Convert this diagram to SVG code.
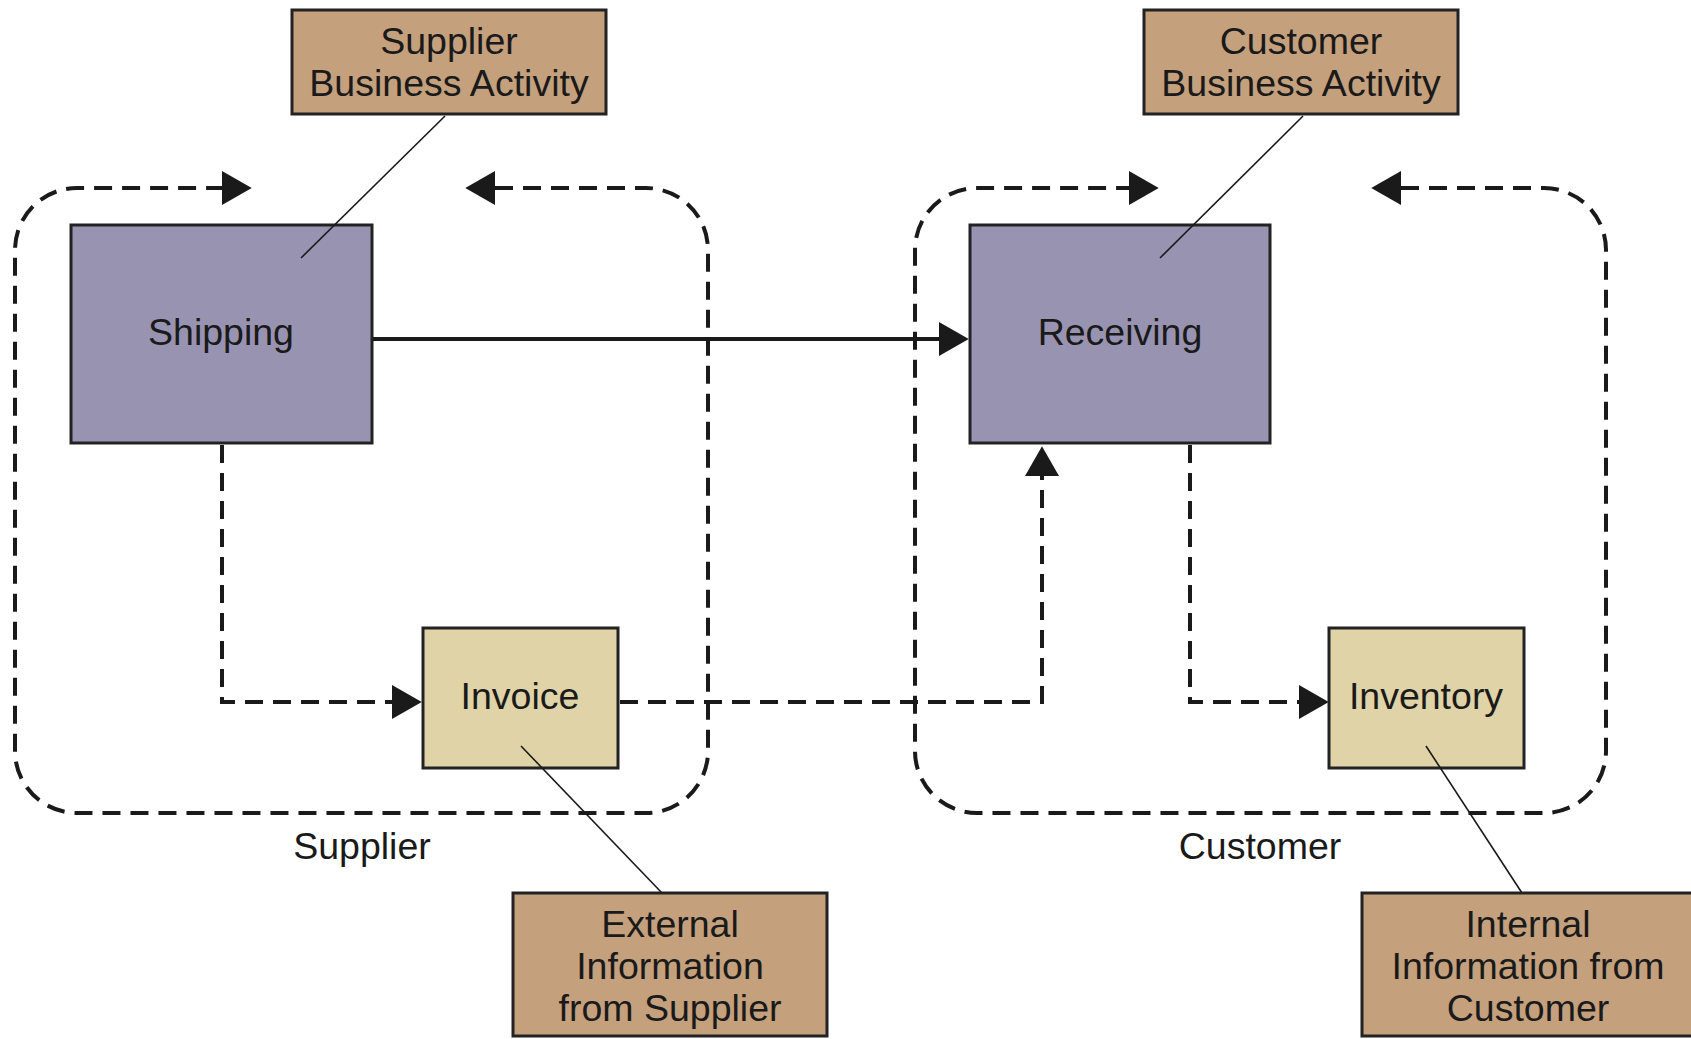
<svg xmlns="http://www.w3.org/2000/svg" width="1691" height="1039" viewBox="0 0 1691 1039">
<style>
text{font-family:"Liberation Sans",Arial,sans-serif;fill:#1a1a1a;text-anchor:middle}
.lbl{font-size:37.5px}
.note{font-size:37.5px}
.brown{fill:#C4A07D;stroke:#222;stroke-width:3}
.purple{fill:#9993B2;stroke:#222;stroke-width:3}
.yellow{fill:#DFD3A7;stroke:#222;stroke-width:3}
.dash{fill:none;stroke:#1a1a1a;stroke-width:4;stroke-dasharray:18 10}
.solid{fill:none;stroke:#1a1a1a;stroke-width:4}
.thin{fill:none;stroke:#1a1a1a;stroke-width:1.6}
</style>
<defs>
<marker id="ah" markerUnits="userSpaceOnUse" markerWidth="30" markerHeight="34" refX="0" refY="16" orient="auto-start-reverse" viewBox="0 0 28 32">
<path d="M0,0 L28,16 L0,32 z" fill="#1a1a1a"/>
</marker>
</defs>
<rect width="1691" height="1039" fill="#fff"/>
<g id="supplier-loop">
<path class="dash" d="M495,188 L646,188 A62,62 0 0 1 708,250 L708,751 A62,62 0 0 1 646,813 L77,813 A62,62 0 0 1 15,751 L15,250 A62,62 0 0 1 77,188 L222,188" marker-start="url(#ah)" marker-end="url(#ah)"/>
<text class="lbl" x="362" y="859">Supplier</text>
</g>
<g id="customer-loop">
<path class="dash" d="M1401,188 L1544,188 A62,62 0 0 1 1606,250 L1606,751 A62,62 0 0 1 1544,813 L977,813 A62,62 0 0 1 915,751 L915,250 A62,62 0 0 1 977,188 L1129,188" marker-start="url(#ah)" marker-end="url(#ah)"/>
<text class="lbl" x="1260" y="859">Customer</text>
</g>
<g id="connectors">
<path class="solid" d="M372,339 L939,339" marker-end="url(#ah)"/>
<path class="dash" d="M222,445 L222,702 L392,702" marker-end="url(#ah)"/>
<path class="dash" d="M620,702 L1042,702 L1042,476" marker-end="url(#ah)"/>
<path class="dash" d="M1190,445 L1190,702 L1299,702" marker-end="url(#ah)"/>
</g>
<g id="shipping">
<rect class="purple" x="71" y="225" width="301" height="218"/>
<text class="lbl" x="221" y="345">Shipping</text>
</g>
<g id="receiving">
<rect class="purple" x="970" y="225" width="300" height="218"/>
<text class="lbl" x="1120" y="345">Receiving</text>
</g>
<g id="invoice">
<rect class="yellow" x="423" y="628" width="195" height="140"/>
<text class="lbl" x="520" y="709">Invoice</text>
</g>
<g id="inventory">
<rect class="yellow" x="1329" y="628" width="195" height="140"/>
<text class="lbl" x="1426" y="709">Inventory</text>
</g>
<g id="annotations">
<line class="thin" x1="445" y1="116" x2="301" y2="258"/>
<line class="thin" x1="1303" y1="116" x2="1160" y2="258"/>
<line class="thin" x1="521" y1="746" x2="662" y2="893"/>
<line class="thin" x1="1426" y1="746" x2="1522" y2="893"/>
</g>
<g id="supplier-business-activity">
<rect class="brown" x="292" y="10" width="314" height="104"/>
<text class="note" x="449" y="54">Supplier</text>
<text class="note" x="449" y="96">Business Activity</text>
</g>
<g id="customer-business-activity">
<rect class="brown" x="1144" y="10" width="314" height="104"/>
<text class="note" x="1301" y="54">Customer</text>
<text class="note" x="1301" y="96">Business Activity</text>
</g>
<g id="external-information">
<rect class="brown" x="513" y="893" width="314" height="143"/>
<text class="note" x="670" y="937">External</text>
<text class="note" x="670" y="979">Information</text>
<text class="note" x="670" y="1021">from Supplier</text>
</g>
<g id="internal-information">
<rect class="brown" x="1362" y="893" width="334" height="143"/>
<text class="note" x="1528" y="937">Internal</text>
<text class="note" x="1528" y="979">Information from</text>
<text class="note" x="1528" y="1021">Customer</text>
</g>
</svg>
